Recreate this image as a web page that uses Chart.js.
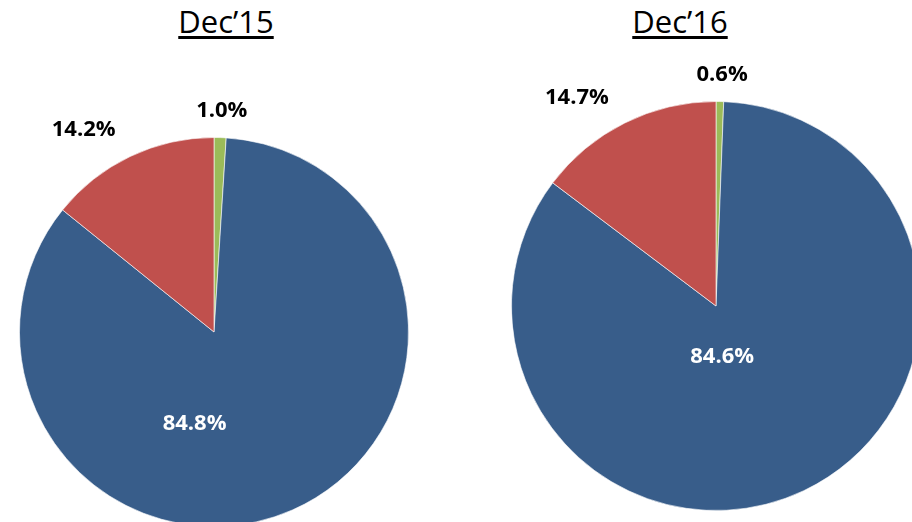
<!DOCTYPE html>
<html>
<head>
<meta charset="utf-8">
<script src="https://cdn.jsdelivr.net/npm/chart.js@4.4.0/dist/chart.umd.min.js"></script>
<style>
  html, body { margin: 0; padding: 0; background: #fff; }
  body { width: 912px; height: 522px; overflow: hidden; position: relative; }
  .title { position: absolute; top: 0px; width: 200px; text-align: center;
    font-family: "Open Sans", sans-serif; font-size: 31px; color: #000;
    text-decoration: underline; text-decoration-thickness: 3px; text-underline-offset: 3px; }
  .box { position: absolute; }
</style>
</head>
<body>
<div class="title" style="left:126px">Dec’15</div>
<div class="title" style="left:580px">Dec’16</div>
<div class="box" id="b1" style="left:0px;top:50px;width:456px;height:480px"><canvas id="pie15"></canvas></div>
<div class="box" id="b2" style="left:456px;top:40px;width:470px;height:482px"><canvas id="pie16"></canvas></div>
<script>
'use strict';
// slices clockwise from 12 o'clock
var categories = ['Green', 'Blue', 'Red'];
var dec15 = [1.0, 84.8, 14.2];
var dec16 = [0.6, 84.6, 14.7];
var colors = ['#9BBB59', '#385D8A', '#C0504D'];
var labelColors = ['#000', '#fff', '#000'];

// label anchor relative to pie centre, in radius units
var spots15 = [[0.04, -1.14], [-0.10, 0.47], [-0.67, -1.04]];
var spots16 = [[0.03, -1.13], [0.03, 0.25], [-0.68, -1.02]];

var pctLabels = {
  id: 'pctLabels',
  afterDatasetsDraw: function(chart, args, opts) {
    var ctx = chart.ctx;
    var meta = chart.getDatasetMeta(0);
    var vals = chart.data.datasets[0].data;
    ctx.save();
    ctx.font = 'bold 22px "Open Sans"';
    ctx.textAlign = 'center';
    ctx.textBaseline = 'middle';
    for (var i in meta.data) {
      var arc = meta.data[i];
      var r = arc.outerRadius;
      ctx.fillStyle = labelColors[i];
      ctx.fillText(vals[i].toFixed(1) + '%', arc.x + opts.spots[i][0] * r, arc.y + opts.spots[i][1] * r);
    }
    ctx.restore();
  }
};

function makePie(id, values, spots, pad) {
  return new Chart(document.getElementById(id), {
    type: 'pie',
    data: {
      labels: categories,
      datasets: [{
        data: values,
        backgroundColor: colors,
        borderColor: 'rgba(255,255,255,0.6)',
        borderWidth: 1
      }]
    },
    options: {
      responsive: true,
      maintainAspectRatio: false,
      animation: false,
      layout: { padding: pad },
      plugins: {
        legend: { display: false },
        tooltip: { enabled: false },
        pctLabels: { spots: spots }
      }
    },
    plugins: [pctLabels]
  });
}

makePie('pie15', dec15, spots15, { left: 19, right: 47, top: 87, bottom: 3 });
makePie('pie16', dec16, spots16, { left: 55, right: 5, top: 61, bottom: 11 });
</script>
</body>
</html>
